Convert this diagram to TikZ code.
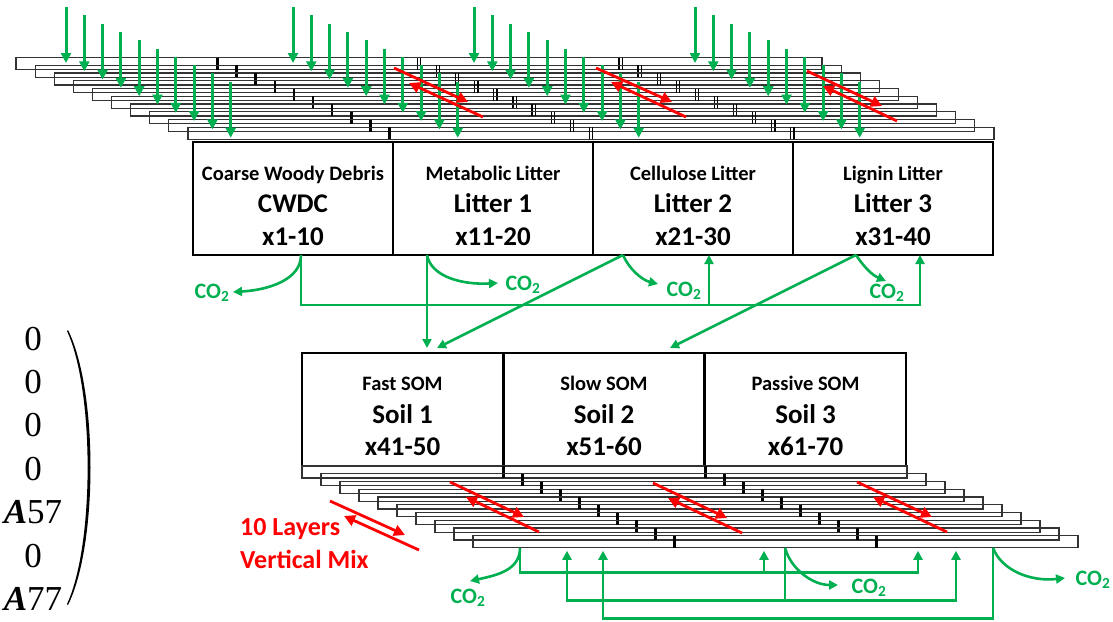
\documentclass[tikz,border=0pt]{standalone}
\usepackage{fontspec}
\newfontfamily\carl{Carlito}
\newfontfamily\tms{Liberation Serif}
\usetikzlibrary{arrows.meta,calc}
\definecolor{gr}{RGB}{0,176,80}
\definecolor{rd}{RGB}{255,0,0}
\begin{document}
\begin{tikzpicture}[x=1pt,y=-1pt,
  strip/.style={draw=black!80, line width=1.2pt, minimum height=12pt, inner sep=0pt, outer sep=0pt, anchor=north west},
  box/.style={draw, line width=2.4pt, minimum width=200pt, minimum height=113pt, inner sep=0pt, outer sep=0pt},
  lab/.style={font=\carl\bfseries\fontsize{20.5}{22}\selectfont, inner sep=0pt, anchor=base},
  big/.style={font=\carl\bfseries\fontsize{27}{29}\selectfont, inner sep=0pt, anchor=base},
  co/.style={text=gr, font=\carl\bfseries\fontsize{22}{23}\selectfont, inner sep=0pt},
  redtxt/.style={text=rd, font=\carl\bfseries\fontsize{26}{28}\selectfont, inner sep=0pt, anchor=base west},
  mat/.style={font=\tms\fontsize{35}{37}\selectfont, inner sep=0pt, anchor=base},
  fall/.style={draw=gr, line width=3pt, -{Triangle[length=10pt,width=10pt]}},
  flow/.style={draw=gr, line width=2.6pt, -{Triangle[length=9pt,width=9pt]}},
  mix/.style={draw=rd, line width=2.8pt, -{Triangle[length=11pt,width=11pt]}},
  tick/.style={line width=2.6pt},
  dtick/.style={line width=1.2pt}
]
\useasboundingbox (0,0) rectangle (1113,621);

% ---------- top layer stack ----------
\foreach \i in {0,...,9}{
  \node[strip, minimum width=806pt] (tp\i) at ({16+19.1*\i},{57.5+7.75*\i}) {};
  \draw[tick] ({16+19.1*\i+201.5},{57.5+7.75*\i}) -- ++(0,12);
  \foreach \k in {2,3}{
    \draw[dtick] ({16+19.1*\i+201.5*\k-1.6},{57.5+7.75*\i}) -- ++(0,12);
    \draw[dtick] ({16+19.1*\i+201.5*\k+1.6},{57.5+7.75*\i}) -- ++(0,12);
  }
}
% inputs falling into each layer
\foreach \g in {66,293,474,695}{
  \foreach \i in {0,...,9}{
    \draw[fall] ({\g+18.3*\i},{7+8.3*\i}) -- ++(0,56);
  }
}
% vertical mixing (top)
\draw[mix] (394,68) -- (468,102);
\draw[mix] (483,117) -- (409,83);
\draw[mix] (596,68) -- (672,102);
\draw[mix] (686,117) -- (611,82);
\draw[mix] (807,71) -- (882,106);
\draw[mix] (897,121) -- (823,86);

% ---------- top boxes ----------
\node[box] (cwd)  at (293,198.5) {};
\node[box] (lit1) at (493,198.5) {};
\node[box] (lit2) at (693,198.5) {};
\node[box] (lit3) at (893,198.5) {};
\node[lab] (cwdA) at (293,180) {Coarse Woody Debris};
\node[big] (cwdB) at (293,212) {CWDC};
\node[big] (cwdC) at (293,245) {x1-10};
\node[lab] (l1A) at (493,180) {Metabolic Litter};
\node[big] (l1B) at (493,212) {Litter 1};
\node[big] (l1C) at (493,245) {x11-20};
\node[lab] (l2A) at (693,180) {Cellulose Litter};
\node[big] (l2B) at (693,212) {Litter 2};
\node[big] (l2C) at (693,245) {x21-30};
\node[lab] (l3A) at (893,180) {Lignin Litter};
\node[big] (l3B) at (893,212) {Litter 3};
\node[big] (l3C) at (893,245) {x31-40};

% ---------- soil boxes ----------
\node[box, minimum width=201pt] (s1) at (402.5,409.5) {};
\node[box, minimum width=201pt] (s2) at (604,409.5) {};
\node[box, minimum width=201pt] (s3) at (805.5,409.5) {};
\node[lab] (s1A) at (402.5,390.5) {Fast SOM};
\node[big] (s1B) at (402.5,423) {Soil 1};
\node[big] (s1C) at (402.5,455) {x41-50};
\node[lab] (s2A) at (604,390.5) {Slow SOM};
\node[big] (s2B) at (604,423) {Soil 2};
\node[big] (s2C) at (604,455) {x51-60};
\node[lab] (s3A) at (805.5,390.5) {Passive SOM};
\node[big] (s3B) at (805.5,423) {Soil 3};
\node[big] (s3C) at (805.5,455) {x61-70};

% ---------- bottom layer stack ----------
\foreach \i in {0,...,9}{
  \node[strip, minimum width=605pt] (bt\i) at ({302+19*\i},{466+7.75*\i}) {};
  \foreach \k in {1,2}{
    \draw[tick] ({302+19*\i+201.7*\k},{466+7.75*\i}) -- ++(0,12);
  }
}
% vertical mixing (bottom)
\draw[mix] (450,482) -- (524,517);
\draw[mix] (539,532) -- (466,497);
\draw[mix] (653,483) -- (727,518);
\draw[mix] (742,533) -- (668,498);
\draw[mix] (857,482) -- (932,517);
\draw[mix] (947,532) -- (873,497);
\draw[mix] (330,501) -- (405,535);
\draw[mix] (419,550) -- (344,516);
\node[redtxt] (mixA) at (240,535) {10 Layers};
\node[redtxt] (mixB) at (240,568) {Vertical Mix};

% ---------- litter fluxes ----------
\coordinate (cwdO) at ($(cwd.south)+(8,0)$);
\coordinate (j1) at ($(cwdO)+(0,50)$);
\coordinate (l2I) at ($(lit2.south)+(16,0)$);
\coordinate (l3I) at ($(lit3.south)+(27,0)$);
\draw[flow] (cwdO) |- (l3I |- j1) -- (l3I);
\draw[flow] (l2I |- j1) -- (l2I);

\coordinate (l1O) at ($(lit1.south)+(-66,0)$);
\coordinate (l2O) at ($(lit2.south)+(-70,0)$);
\coordinate (l3O) at ($(lit3.south)+(-37,0)$);
\coordinate (s1Ia) at ($(s1.north)+(24.5,-5)$);
\coordinate (s1Ib) at ($(s1.north)+(34.5,-5)$);
\coordinate (s2I) at ($(s2.north)+(66,-5)$);
\draw[flow] (l1O) -- (s1Ia);
\draw[flow] (l2O) -- (s1Ib);
\draw[flow] (l3O) -- (s2I);

% CO2 from litter
\coordinate (cwdE) at (233,292);
\coordinate (l1E) at (498,283);
\coordinate (l2E) at (658,284);
\coordinate (l3E) at (886,281);
\draw[flow] (cwdO) .. controls +(0,25) and +(35,-2) .. (cwdE);
\draw[flow] (l1O) .. controls +(4,22) and +(-35,2) .. (l1E);
\draw[flow] (l2O) .. controls +(6,14) and +(-16,-4) .. (l2E);
\draw[flow] (l3O) .. controls +(8,12) and +(-14,-6) .. (l3E);
\node[co] (co1) at (212,293) {CO\textsubscript{2}};
\node[co] (co2) at (523,285) {CO\textsubscript{2}};
\node[co] (co3) at (684,291) {CO\textsubscript{2}};
\node[co] (co4) at (887,293) {CO\textsubscript{2}};

% ---------- soil fluxes ----------
\coordinate (s1O) at ($(bt9.south)+(-255.5,0)$);
\coordinate (s1J) at ($(s1O)+(0,25)$);
\coordinate (s3Ia) at ($(bt9.south)+(142.5,3)$);
\coordinate (s2Ia) at ($(bt9.south)+(-11.5,3)$);
\draw[flow] (s1O) |- (s3Ia |- s1J) -- (s3Ia);
\draw[flow] (s2Ia |- s1J) -- (s2Ia);

\coordinate (s2O) at ($(bt9.south)+(9.5,0)$);
\coordinate (s2J) at ($(s2O)+(0,53)$);
\coordinate (s1Ic) at ($(bt9.south)+(-208.5,3)$);
\coordinate (s3Ib) at ($(bt9.south)+(180.5,3)$);
\draw[flow] (s2O) |- (s1Ic |- s2J) -- (s1Ic);
\draw[flow] (s2J) -| (s3Ib);

\coordinate (s3O) at ($(bt9.south)+(217.5,0)$);
\coordinate (s3J) at ($(s3O)+(0,71)$);
\coordinate (s1Id) at ($(bt9.south)+(-172.5,3)$);
\draw[flow] (s3O) |- (s1Id |- s3J) -- (s1Id);

% CO2 from soil
\coordinate (s1E) at (470,581);
\coordinate (s2E) at (838,585);
\coordinate (s3E) at (1065,578);
\draw[flow] (s1O) .. controls +(0,22) and +(28,-6) .. (s1E);
\draw[flow] (s2O) .. controls +(6,22) and +(-25,0) .. (s2E);
\draw[flow] (s3O) .. controls +(8,22) and +(-35,4) .. (s3E);
\node[co] (co5) at (468,598) {CO\textsubscript{2}};
\node[co] (co6) at (869,588) {CO\textsubscript{2}};
\node[co] (co7) at (1093,580) {CO\textsubscript{2}};

% ---------- column vector ----------
\node[mat] (m1) at (33,350) {0};
\node[mat] (m2) at (33,393) {0};
\node[mat] (m3) at (33,436) {0};
\node[mat] (m4) at (33,480) {0};
\node[mat] (m5) at (33,523) {\textbf{\textit{A}}57};
\node[mat] (m6) at (33,567) {0};
\node[mat] (m7) at (33,610) {\textbf{\textit{A}}77};
\fill (68,330) .. controls (98,390) and (98,545) .. (68,605)
   -- (67,604) .. controls (94.5,545) and (94.5,390) .. (67,331) -- cycle;
\end{tikzpicture}
\end{document}
